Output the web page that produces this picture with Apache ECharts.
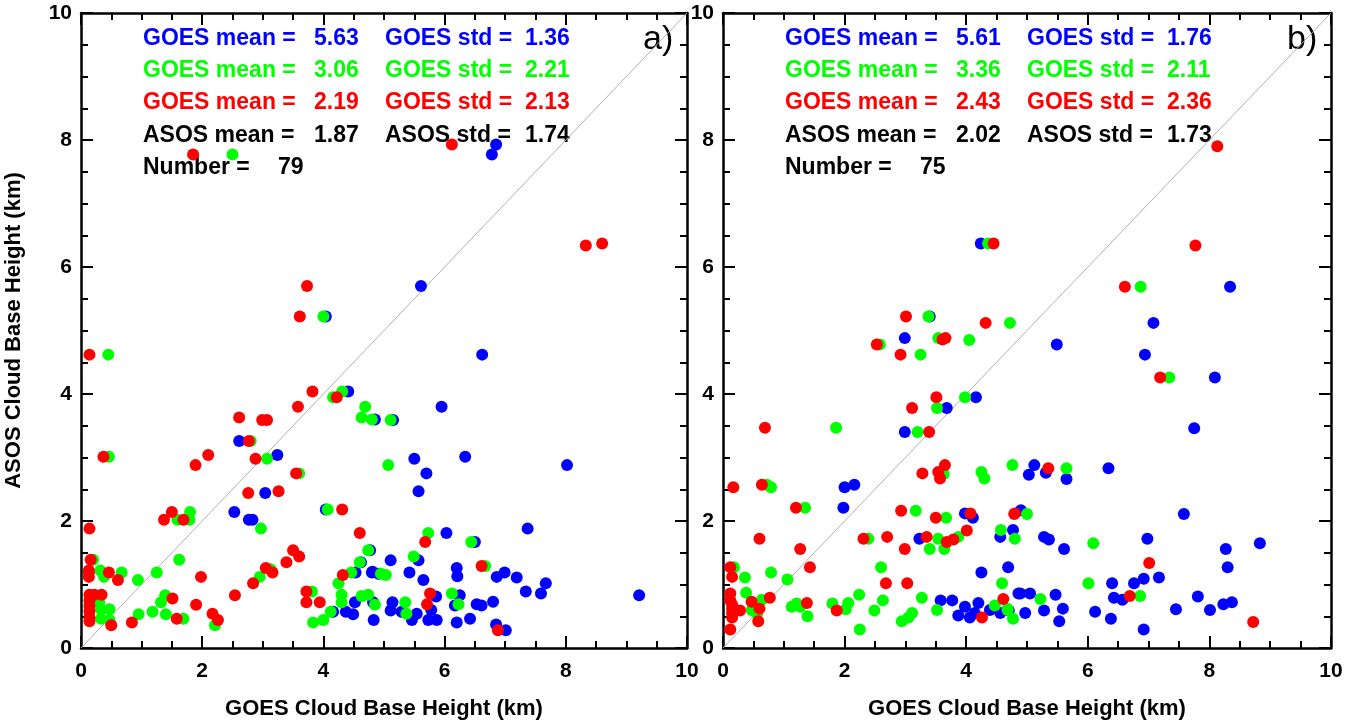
<!DOCTYPE html>
<html>
<head>
<meta charset="utf-8">
<script src="https://cdn.jsdelivr.net/npm/echarts@6/dist/echarts.min.js"></script>
<style>
  html, body { margin: 0; padding: 0; background: #fff; }
  #main { width: 1352px; height: 725px; }
</style>
</head>
<body>
<div id="main"></div>
<script>
// ---- data (km) ----
var axisTicks = [0, 2, 4, 6, 8, 10];
var oneToOne = [[0, 0], [10, 10]];

// panel a) [GOES, ASOS]
var aBlue = [[6.85,7.93],[6.78,7.77],[5.61,5.70],[4.04,5.22],[6.62,4.62],[4.41,4.04],[5.95,3.80],[4.85,3.60],[5.15,3.59],[2.61,3.26],[3.24,3.04],[3.04,2.44],[2.53,2.14],[2.77,2.02],[2.83,2.02],[4.04,2.18],[4.77,1.54],[4.62,1.35],[4.53,1.19],[4.80,1.19],[4.91,1.17],[4.52,0.72],[4.82,0.72],[4.16,0.57],[4.37,0.57],[4.49,0.53],[4.83,0.44],
  [5.50,2.98],[5.70,2.75],[5.57,2.47],[6.34,3.01],[8.02,2.88],[7.37,1.88],[6.03,1.81],[6.50,1.67],[5.11,1.38],[5.57,1.38],[6.20,1.26],[6.21,1.13],[4.81,1.20],[5.42,1.19],[5.65,1.07],[6.86,1.12],[6.99,1.19],[7.19,1.11],[7.67,1.02],[7.34,0.89],[7.59,0.86],[9.21,0.83],[5.14,0.72],[5.86,0.81],[5.78,0.60],[6.25,0.83],[6.17,0.67],[6.53,0.69],[6.61,0.67],[6.80,0.73],[5.11,0.59],[5.29,0.57],[5.54,0.54],[5.46,0.44],[5.73,0.44],[5.87,0.44],[6.20,0.40],[6.42,0.46],[6.85,0.37],[7.01,0.28]];
var aGreen = [[2.50,7.77],[0.45,4.62],[4.00,5.22],[4.16,3.95],[4.31,4.04],[4.69,3.80],[4.63,3.63],[4.80,3.60],[5.11,3.59],[2.80,3.26],[0.46,3.01],[3.07,2.98],[3.60,2.75],[1.59,2.02],[1.79,2.02],[1.80,2.14],[2.97,1.88],[4.07,2.18],[4.74,1.54],[0.20,1.39],[1.62,1.39],[0.32,1.22],[0.38,1.12],[0.67,1.19],[0.94,1.07],[1.25,1.19],[3.13,1.24],[2.95,1.12],[4.60,1.35],[4.46,1.19],[4.25,1.02],[3.81,0.89],[4.30,0.84],[4.30,0.72],[4.63,0.82],[4.74,0.84],[4.85,0.68],[4.12,0.57],[3.83,0.40],[4.00,0.44],[1.39,0.83],[1.32,0.72],[1.18,0.57],[1.40,0.53],[0.95,0.53],[1.69,0.46],[2.21,0.36],[0.47,0.44],[0.47,0.61],[0.33,0.46],[0.33,0.61],[0.30,0.72],
  [5.07,2.88],[5.73,1.81],[6.44,1.67],[5.49,1.44],[6.67,1.29],[4.95,1.17],[5.03,1.15],[5.35,0.72],[6.12,0.86],[6.23,0.69],[5.37,0.54]];
var aRed = [[1.85,7.77],[6.12,7.93],[0.14,4.62],[3.73,5.70],[3.61,5.22],[3.82,4.04],[3.58,3.80],[4.22,3.95],[2.61,3.63],[2.99,3.59],[3.07,3.59],[2.77,3.26],[0.37,3.01],[2.10,3.04],[2.88,2.98],[1.89,2.88],[3.55,2.75],[2.76,2.44],[3.26,2.47],[1.37,2.02],[1.50,2.14],[1.69,2.02],[0.14,1.88],[4.31,2.18],[4.60,1.81],[0.16,1.39],[0.13,1.22],[0.13,1.12],[0.13,1.19],[0.46,1.19],[0.61,1.07],[1.98,1.12],[3.50,1.54],[3.60,1.44],[3.39,1.35],[3.05,1.26],[3.16,1.19],[2.84,1.02],[2.54,0.83],[4.32,1.15],[3.72,0.89],[3.72,0.72],[3.94,0.72],[1.51,0.78],[1.58,0.46],[1.90,0.68],[2.17,0.54],[2.26,0.44],[0.84,0.40],[0.50,0.36],[0.34,0.84],[0.14,0.84],[0.14,0.75],[0.14,0.66],[0.14,0.58],[0.14,0.48],[0.14,0.42],[0.22,0.84],
  [8.33,6.34],[8.60,6.37],[5.68,1.67],[6.61,1.29],[5.76,0.86],[5.71,0.69],[6.88,0.28]];

// panel b) [GOES, ASOS]
var bBlue = [[4.24,6.37],[3.40,5.22],[2.99,4.88],[4.16,3.95],[3.68,3.78],[2.99,3.40],[8.34,5.69],[7.08,5.12],[5.49,4.78],[6.94,4.62],[8.09,4.26],[7.75,3.46],[2.00,2.53],[2.16,2.57],[1.98,2.21],[3.98,2.12],[4.11,2.05],[3.23,1.72],[4.56,1.75],[4.77,1.86],[4.25,1.19],[4.69,1.27],[4.86,0.86],[3.58,0.75],[3.77,0.75],[3.87,0.51],[3.98,0.65],[4.06,0.48],[4.14,0.55],[4.20,0.71],[4.39,0.60],[4.56,0.55],
  [5.12,2.88],[5.03,2.73],[5.31,2.76],[5.65,2.66],[6.34,2.83],[4.90,2.17],[7.58,2.11],[5.28,1.75],[5.36,1.71],[5.61,1.56],[6.98,1.72],[8.83,1.65],[8.27,1.56],[8.30,1.27],[6.40,1.02],[6.76,1.02],[6.92,1.09],[7.17,1.11],[4.89,0.86],[5.05,0.86],[5.47,0.84],[6.43,0.79],[6.57,0.76],[7.81,0.81],[8.23,0.69],[8.37,0.72],[4.70,0.59],[4.97,0.55],[5.28,0.59],[5.53,0.42],[5.59,0.62],[6.12,0.57],[6.38,0.46],[6.92,0.29],[7.45,0.61],[8.01,0.60]];
var bGreen = [[4.36,6.37],[3.38,5.22],[4.72,5.12],[3.54,4.88],[4.05,4.85],[2.58,4.78],[3.25,4.62],[3.98,3.95],[3.52,3.78],[1.86,3.47],[3.20,3.40],[6.87,5.69],[7.34,4.26],[3.63,2.74],[4.25,2.77],[4.30,2.67],[4.76,2.88],[0.72,2.57],[0.79,2.53],[1.35,2.21],[3.17,2.16],[3.67,2.05],[2.39,1.72],[3.54,1.72],[3.87,1.75],[3.40,1.56],[3.64,1.56],[4.57,1.86],[4.80,1.72],[0.18,1.27],[0.36,1.11],[0.79,1.19],[1.06,1.08],[2.60,1.27],[4.59,1.02],[0.38,0.87],[0.64,0.76],[0.47,0.60],[0.56,0.54],[1.13,0.65],[1.21,0.70],[1.27,0.65],[1.39,0.50],[1.80,0.70],[2.02,0.61],[2.06,0.71],[2.24,0.84],[2.25,0.29],[2.49,0.59],[2.63,0.75],[2.94,0.42],[3.05,0.48],[3.11,0.55],[3.27,0.79],[3.52,0.60],[4.47,0.67],[4.68,0.60],[4.77,0.46],
  [5.65,2.83],[5.00,2.11],[6.09,1.65],[6.01,1.02],[5.22,0.77],[6.86,0.82],[4.68,0.62]];
var bRed = [[8.13,7.90],[4.45,6.37],[3.01,5.22],[4.32,5.12],[3.61,4.86],[3.66,4.88],[2.53,4.78],[2.92,4.62],[3.51,3.95],[3.11,3.78],[0.69,3.47],[3.39,3.40],[7.77,6.34],[6.61,5.69],[7.19,4.26],[3.65,2.88],[3.54,2.77],[3.57,2.67],[3.28,2.75],[0.17,2.53],[0.64,2.57],[1.20,2.21],[2.93,2.16],[3.50,2.05],[4.07,2.12],[4.80,2.12],[0.60,1.72],[2.31,1.72],[2.70,1.75],[3.35,1.75],[3.68,1.67],[3.79,1.71],[4.01,1.85],[2.99,1.56],[1.27,1.56],[0.12,1.27],[0.15,1.12],[1.43,1.27],[2.68,1.02],[3.03,1.02],[4.61,0.77],[0.47,0.73],[0.77,0.79],[0.60,0.62],[0.58,0.42],[0.28,0.59],[0.12,0.86],[0.12,0.75],[0.15,0.68],[0.15,0.62],[0.15,0.55],[0.15,0.48],[0.12,0.29],[1.38,0.71],[1.87,0.59],[4.26,0.48],
  [5.35,2.83],[4.79,2.11],[7.01,1.34],[6.69,0.82],[8.72,0.41]];

// stats text
var aGoesMean = ['5.63', '3.06', '2.19'];
var aGoesStd = ['1.36', '2.21', '2.13'];
var aAsos = ['1.87', '1.74'];
var aNumber = '79';
var bGoesMean = ['5.61', '3.36', '2.43'];
var bGoesStd = ['1.76', '2.11', '2.36'];
var bAsos = ['2.02', '1.73'];
var bNumber = '75';
var panelTags = ['a)', 'b)'];

(function () {

    var myChart = echarts.init(document.getElementById('main'));

    var FONT = '"Liberation Sans", Arial, Helvetica, sans-serif';
    var colors = ['#0000ff', '#00ff00', '#ff0000'];
    var grids = [
        { left: 81, top: 13, width: 606, height: 646 },
        { left: 723, top: 13, width: 608, height: 646 }
    ];

    var axisCommon = function (pos, showLabel, name) {
        return {
            type: 'value',
            position: pos,
            min: axisTicks[0],
            max: axisTicks[axisTicks.length - 1],
            interval: axisTicks[1] - axisTicks[0],
            axisLine: { show: true, onZero: false, lineStyle: { color: '#000', width: 2.5 } },
            axisTick: { show: true, inside: true, length: 12, lineStyle: { color: '#000', width: 2 } },
            minorTick: { show: true, splitNumber: 4, length: 7, lineStyle: { color: '#000', width: 2 } },
            splitLine: { show: false },
            axisLabel: {
                show: showLabel,
                color: '#000',
                fontFamily: FONT,
                fontWeight: 'bold',
                fontSize: 21,
                margin: (pos === 'bottom') ? 13 : 9
            },
            name: name || '',
            nameLocation: 'middle',
            nameGap: (pos === 'bottom') ? 50 : 56,
            nameTextStyle: { color: '#000', fontFamily: FONT, fontWeight: 'bold', fontSize: 22 }
        };
    };

    var xAxes = [], yAxes = [];
    for (var g = 0; g < 2; g++) {
        var xb = axisCommon('bottom', true, 'GOES Cloud Base Height (km)'); xb.gridIndex = g;
        var xt = axisCommon('top', false); xt.gridIndex = g;
        var yl = axisCommon('left', true, g === 0 ? 'ASOS Cloud Base Height (km)' : ''); yl.gridIndex = g;
        var yr = axisCommon('right', false); yr.gridIndex = g;
        xAxes.push(xb, xt);
        yAxes.push(yl, yr);
    }

    var panels = [[aBlue, aGreen, aRed], [bBlue, bGreen, bRed]];
    var series = [];
    for (var p = 0; p < 2; p++) {
        series.push({
            type: 'line',
            xAxisIndex: p * 2,
            yAxisIndex: p * 2,
            data: oneToOne,
            symbol: 'none',
            silent: true,
            lineStyle: { color: '#b0b0b0', width: 1 },
            z: 1
        });
        for (var c = 0; c < 3; c++) {
            series.push({
                type: 'scatter',
                xAxisIndex: p * 2,
                yAxisIndex: p * 2,
                data: panels[p][c],
                symbol: 'circle',
                symbolSize: 12,
                itemStyle: { color: colors[c], opacity: 1 },
                z: 2 + c
            });
        }
    }

    // stats text blocks
    var stats = [
        { mean: aGoesMean, std: aGoesStd, asos: aAsos, n: aNumber },
        { mean: bGoesMean, std: bGoesStd, asos: bAsos, n: bNumber }
    ];
    var rowY = [39, 71, 103, 136, 168];
    var graphics = [];
    var txt = function (x, y, s, color, font) {
        graphics.push({
            type: 'text', x: x, y: y, silent: true,
            style: { text: s, fill: color, font: font, align: 'left', verticalAlign: 'middle' }
        });
    };
    for (var q = 0; q < 2; q++) {
        var gx = grids[q].left;
        var st = stats[q];
        var bold = 'bold 23px ' + FONT;
        for (var r = 0; r < 3; r++) {
            txt(gx + 62, rowY[r], 'GOES mean =', colors[r], bold);
            txt(gx + 233, rowY[r], st.mean[r], colors[r], bold);
            txt(gx + 304, rowY[r], 'GOES std =', colors[r], bold);
            txt(gx + 444, rowY[r], st.std[r], colors[r], bold);
        }
        txt(gx + 62, rowY[3], 'ASOS mean =', '#000', bold);
        txt(gx + 233, rowY[3], st.asos[0], '#000', bold);
        txt(gx + 304, rowY[3], 'ASOS std =', '#000', bold);
        txt(gx + 444, rowY[3], st.asos[1], '#000', bold);
        txt(gx + 62, rowY[4], 'Number =', '#000', bold);
        txt(gx + 197, rowY[4], st.n, '#000', bold);
        txt(gx + grids[q].width - 44, 40, panelTags[q], '#000', '34px ' + FONT);
    }

    var option = {
        backgroundColor: '#fff',
        animation: false,
        grid: grids,
        xAxis: xAxes,
        yAxis: yAxes,
        series: series,
        graphic: graphics
    };

    myChart.setOption(option);

})();
</script>
</body>
</html>
